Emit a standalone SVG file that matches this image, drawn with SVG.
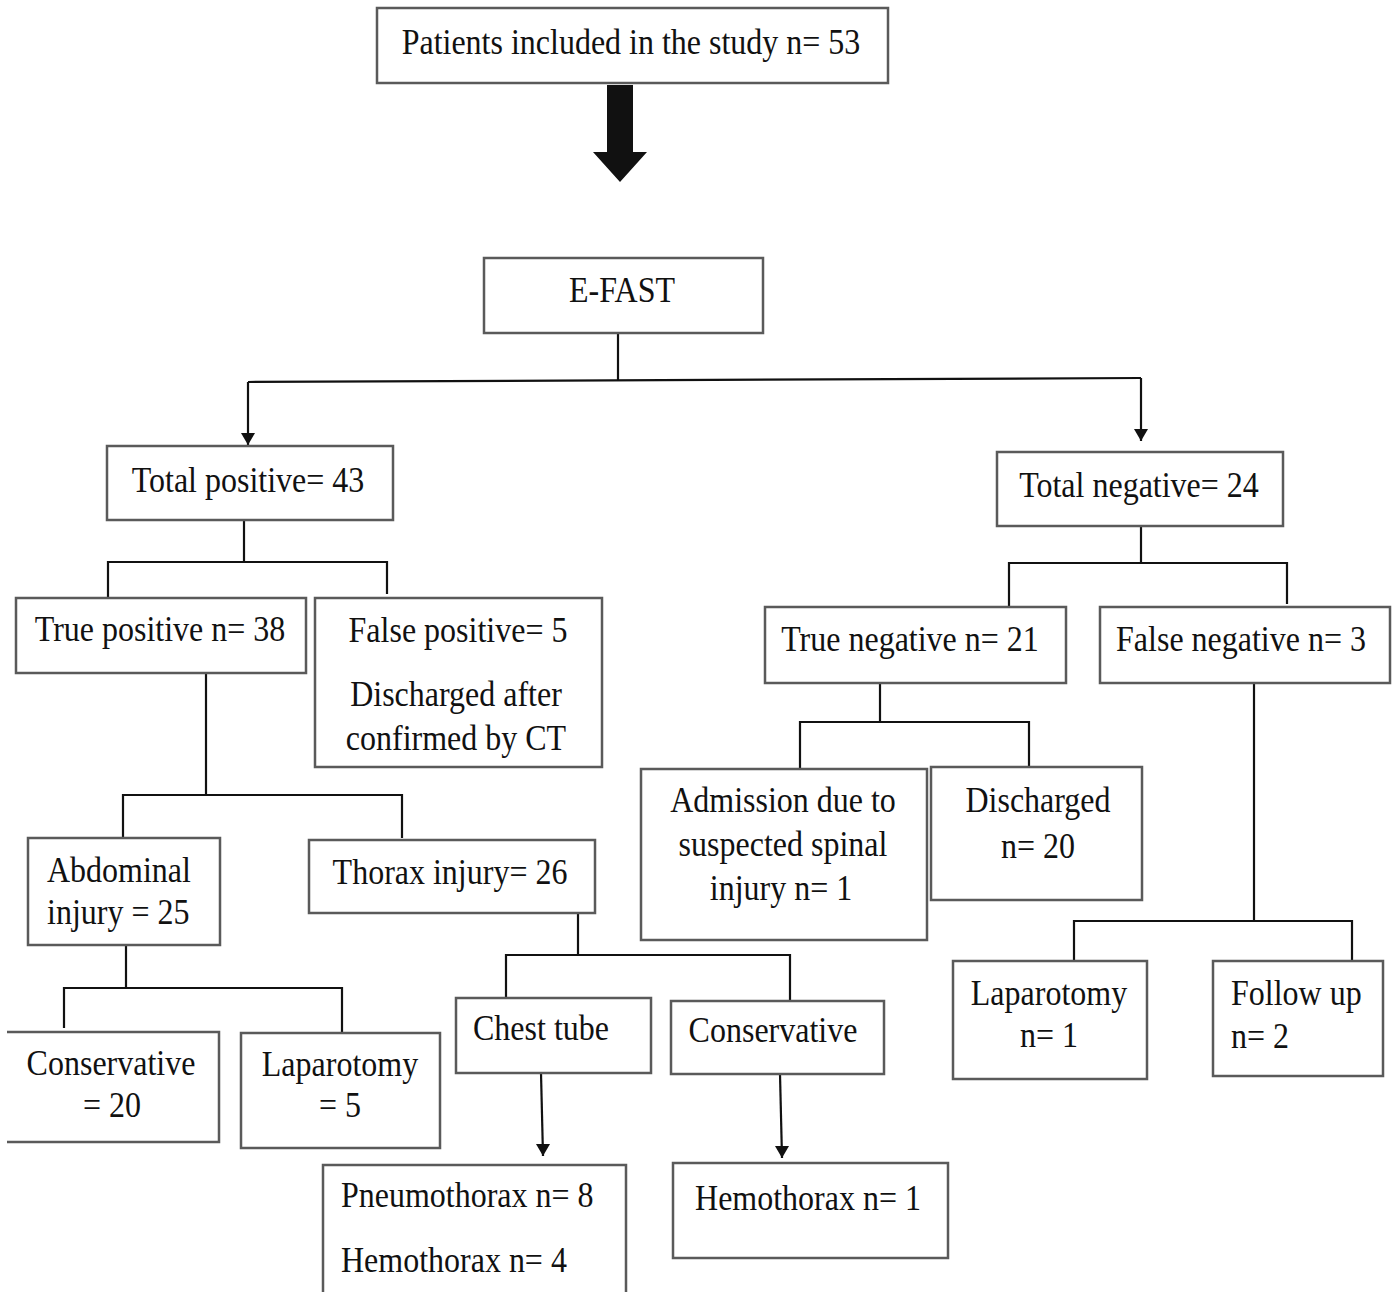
<svg xmlns="http://www.w3.org/2000/svg" width="1400" height="1292" viewBox="0 0 1400 1292">
<style>
.box{fill:#fff;stroke:#5a5a5a;stroke-width:2.5}
.t{font-family:"Liberation Serif","Times New Roman",serif;font-size:32px;fill:#111;text-anchor:middle}
.s{text-anchor:start}
.ln{fill:none;stroke:#111;stroke-width:2.2}
</style>
<defs>
<marker id="ah" viewBox="0 0 12 12" refX="6" refY="11" markerWidth="12" markerHeight="12" markerUnits="userSpaceOnUse" orient="auto-start-reverse">
<path d="M0,0 L12,0 L6,12 Z" fill="#111" transform="rotate(-90 6 6)"/>
</marker>
<marker id="dn" viewBox="0 0 14 14" refX="7" refY="14" markerWidth="14" markerHeight="14" markerUnits="userSpaceOnUse" orient="0">
<path d="M0,2 L14,2 L7,14 Z" fill="#111"/>
</marker>
</defs>
<rect width="1400" height="1292" fill="#fff"/>

<g id="connectors">
<path d="M607,85 H633 V152 H647 L620,182 L593,152 H607 Z" fill="#111"/>
<path class="ln" d="M618,333 V380"/>
<path class="ln" d="M248,382 L1141,378"/>
<path class="ln" d="M248,382 V445" marker-end="url(#dn)"/>
<path class="ln" d="M1141,378 V441" marker-end="url(#dn)"/>
<path class="ln" d="M244,520 V562"/>
<path class="ln" d="M108,598 V562 H387 V594"/>
<path class="ln" d="M206,673 V795"/>
<path class="ln" d="M123,838 V795 H402 V838"/>
<path class="ln" d="M126,945 V988"/>
<path class="ln" d="M64,1028 V988 H342 V1032"/>
<path class="ln" d="M578,913 V955"/>
<path class="ln" d="M506,998 V955 H790 V1000"/>
<path class="ln" d="M541,1073 L543,1156" marker-end="url(#dn)"/>
<path class="ln" d="M780,1074 L782,1158" marker-end="url(#dn)"/>
<path class="ln" d="M1141,526 V563"/>
<path class="ln" d="M1009,606 V563 H1287 V604"/>
<path class="ln" d="M880,683 V722"/>
<path class="ln" d="M800,768 V722 H1029 V768"/>
<path class="ln" d="M1254,683 V921"/>
<path class="ln" d="M1074,961 V921 H1352 V961"/>
</g>

<g id="n-patients">
<rect class="box" x="377" y="8" width="511" height="75"/>
<text class="t" transform="translate(631,54) scale(1,1.15)">Patients included in the study n= 53</text>
</g>
<g id="n-efast">
<rect class="box" x="484" y="258" width="279" height="75"/>
<text class="t" transform="translate(622,302) scale(1,1.15)">E-FAST</text>
</g>
<g id="n-totpos">
<rect class="box" x="107" y="446" width="286" height="74"/>
<text class="t" transform="translate(248,492) scale(1,1.15)">Total positive= 43</text>
</g>
<g id="n-totneg">
<rect class="box" x="997" y="452" width="286" height="74"/>
<text class="t" transform="translate(1139,497) scale(1,1.15)">Total negative= 24</text>
</g>
<g id="n-truepos">
<rect class="box" x="16" y="598" width="290" height="75"/>
<text class="t" transform="translate(160,641) scale(1,1.15)">True positive n= 38</text>
</g>
<g id="n-falsepos">
<rect class="box" x="315" y="598" width="287" height="169"/>
<text class="t" transform="translate(458,642) scale(1,1.15)">False positive= 5</text>
<text class="t" transform="translate(456,706) scale(1,1.15)">Discharged after</text>
<text class="t" transform="translate(456,750) scale(1,1.15)">confirmed by CT</text>
</g>
<g id="n-trueneg">
<rect class="box" x="765" y="607" width="301" height="76"/>
<text class="t" transform="translate(910,651) scale(1,1.15)">True negative n= 21</text>
</g>
<g id="n-falseneg">
<rect class="box" x="1100" y="607" width="290" height="76"/>
<text class="t" transform="translate(1241,651) scale(1,1.15)">False negative n= 3</text>
</g>
<g id="n-admission">
<rect class="box" x="641" y="769" width="286" height="171"/>
<text class="t" transform="translate(783,812) scale(1,1.15)">Admission due to</text>
<text class="t" transform="translate(783,856) scale(1,1.15)">suspected spinal</text>
<text class="t" transform="translate(781,900) scale(1,1.15)">injury n= 1</text>
</g>
<g id="n-discharged">
<rect class="box" x="931" y="767" width="211" height="133"/>
<text class="t" transform="translate(1038,812) scale(1,1.15)">Discharged</text>
<text class="t" transform="translate(1038,858) scale(1,1.15)">n= 20</text>
</g>
<g id="n-abdominal">
<rect class="box" x="28" y="838" width="192" height="107"/>
<text class="t s" transform="translate(47,882) scale(1,1.15)">Abdominal</text>
<text class="t s" transform="translate(47,924) scale(1,1.15)">injury = 25</text>
</g>
<g id="n-thorax">
<rect class="box" x="309" y="840" width="286" height="73"/>
<text class="t" transform="translate(450,884) scale(1,1.15)">Thorax injury= 26</text>
</g>
<g id="n-conservative-abd">
<path class="box" d="M7,1032 H219 V1142 H7"/>
<text class="t" transform="translate(111,1075) scale(1,1.15)">Conservative</text>
<text class="t" transform="translate(112,1117) scale(1,1.15)">= 20</text>
</g>
<g id="n-laparotomy-abd">
<rect class="box" x="241" y="1033" width="199" height="115"/>
<text class="t" transform="translate(340,1076) scale(1,1.15)">Laparotomy</text>
<text class="t" transform="translate(340,1117) scale(1,1.15)">= 5</text>
</g>
<g id="n-chesttube">
<rect class="box" x="456" y="998" width="195" height="75"/>
<text class="t" transform="translate(541,1040) scale(1,1.15)">Chest tube</text>
</g>
<g id="n-conservative-thx">
<rect class="box" x="671" y="1001" width="213" height="73"/>
<text class="t" transform="translate(773,1042) scale(1,1.15)">Conservative</text>
</g>
<g id="n-pneumo">
<path class="box" d="M323,1294 V1165 H626 V1294"/>
<text class="t s" transform="translate(341,1207) scale(1,1.15)">Pneumothorax n= 8</text>
<text class="t s" transform="translate(341,1272) scale(1,1.15)">Hemothorax n= 4</text>
</g>
<g id="n-hemo">
<rect class="box" x="673" y="1163" width="275" height="95"/>
<text class="t" transform="translate(808,1210) scale(1,1.15)">Hemothorax n= 1</text>
</g>
<g id="n-laparotomy-neg">
<rect class="box" x="953" y="961" width="194" height="118"/>
<text class="t" transform="translate(1049,1005) scale(1,1.15)">Laparotomy</text>
<text class="t" transform="translate(1049,1047) scale(1,1.15)">n= 1</text>
</g>
<g id="n-followup">
<rect class="box" x="1213" y="961" width="170" height="115"/>
<text class="t s" transform="translate(1231,1005) scale(1,1.15)">Follow up</text>
<text class="t s" transform="translate(1231,1048) scale(1,1.15)">n= 2</text>
</g>
</svg>
